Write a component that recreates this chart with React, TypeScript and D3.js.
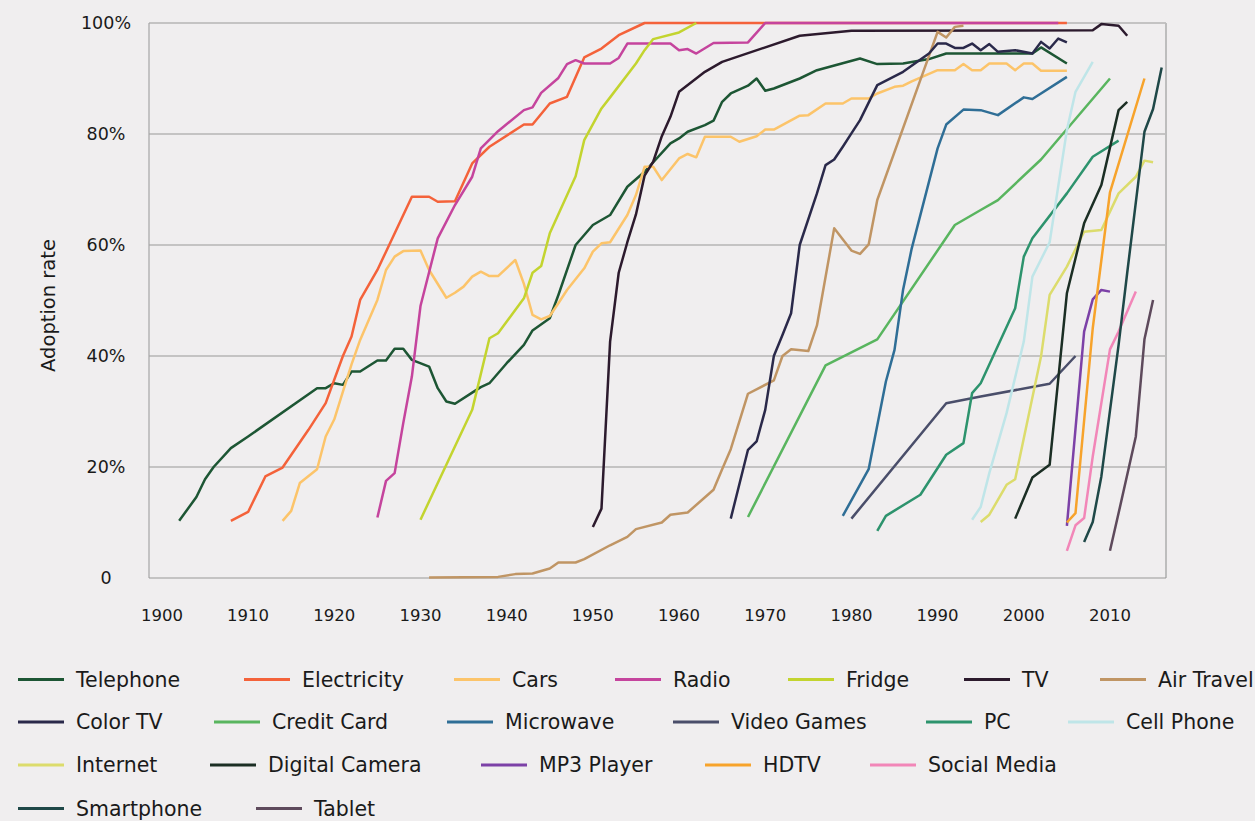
import React from "react";
import * as d3 from "d3";

type Pt = [number, number];

// ---- data: [year, adoption %] ----
const telephone: Pt[] = [[1902,10.3],[1904,14.6],[1905,17.8],[1906,20.0],[1908,23.4],[1910,25.5],[1918,34.2],[1919,34.2],[1920,35.1],[1921,34.8],[1922,37.2],[1923,37.2],[1925,39.2],[1926,39.2],[1927,41.3],[1928,41.3],[1929,39.3],[1931,38.1],[1932,34.2],[1933,31.8],[1934,31.4],[1936,33.4],[1937,34.4],[1938,35.1],[1940,38.7],[1942,42.0],[1943,44.6],[1945,46.8],[1946,51.0],[1948,60.0],[1950,63.6],[1952,65.4],[1954,70.5],[1956,73.2],[1959,78.3],[1960,79.2],[1961,80.4],[1963,81.6],[1964,82.4],[1965,85.8],[1966,87.3],[1968,88.7],[1969,90.0],[1970,87.8],[1971,88.2],[1974,90.0],[1976,91.5],[1981,93.6],[1983,92.6],[1986,92.7],[1989,93.5],[1991,94.5],[2001,94.5],[2002,95.6],[2005,92.7]];
const electricity: Pt[] = [[1908,10.3],[1910,11.9],[1912,18.3],[1914,19.9],[1917,26.7],[1919,31.5],[1921,40.0],[1922,43.5],[1923,50.1],[1925,55.5],[1926,58.8],[1929,68.7],[1931,68.7],[1932,67.8],[1934,67.9],[1936,74.7],[1938,77.7],[1942,81.7],[1943,81.7],[1945,85.5],[1947,86.7],[1949,93.8],[1951,95.4],[1953,97.8],[1956,100],[2005,100]];
const cars: Pt[] = [[1914,10.3],[1915,12.1],[1916,17.1],[1918,19.6],[1919,25.5],[1920,28.6],[1921,33.6],[1922,38.5],[1923,42.9],[1924,46.5],[1925,50.1],[1926,55.5],[1927,57.9],[1928,58.9],[1930,59.0],[1931,55.5],[1933,50.5],[1934,51.4],[1935,52.5],[1936,54.3],[1937,55.2],[1938,54.4],[1939,54.4],[1941,57.3],[1942,53.0],[1943,47.4],[1944,46.6],[1945,47.2],[1946,49.5],[1947,51.9],[1949,55.8],[1950,58.8],[1951,60.3],[1952,60.5],[1954,65.4],[1955,69.0],[1956,74.1],[1957,74.1],[1958,71.7],[1960,75.6],[1961,76.4],[1962,75.8],[1963,79.5],[1966,79.5],[1967,78.6],[1969,79.6],[1970,80.8],[1971,80.8],[1974,83.3],[1975,83.4],[1977,85.5],[1979,85.5],[1980,86.4],[1982,86.4],[1983,87.3],[1985,88.5],[1986,88.7],[1987,89.5],[1990,91.5],[1992,91.5],[1993,92.6],[1994,91.5],[1995,91.5],[1996,92.7],[1998,92.7],[1999,91.5],[2000,92.7],[2001,92.7],[2002,91.4],[2005,91.4]];
const radio: Pt[] = [[1925,10.9],[1926,17.5],[1927,18.9],[1928,27.9],[1929,36.3],[1930,49.0],[1932,61.2],[1934,67.2],[1936,72.3],[1937,77.4],[1939,80.5],[1942,84.3],[1943,84.8],[1944,87.4],[1946,90.1],[1947,92.6],[1948,93.3],[1949,92.7],[1952,92.7],[1953,93.7],[1954,96.3],[1959,96.3],[1960,95.1],[1961,95.3],[1962,94.5],[1964,96.4],[1968,96.5],[1970,100],[2004,100]];
const fridge: Pt[] = [[1930,10.5],[1936,30.3],[1938,43.2],[1939,44.1],[1942,50.4],[1943,55.0],[1944,56.2],[1945,62.1],[1948,72.4],[1949,78.9],[1951,84.6],[1952,86.6],[1955,92.7],[1956,95.1],[1957,97.1],[1960,98.3],[1962,100]];
const tv: Pt[] = [[1950,9.2],[1951,12.5],[1952,42.6],[1953,55.0],[1954,60.5],[1955,65.5],[1956,72.5],[1957,75.0],[1958,79.6],[1959,83.1],[1960,87.6],[1963,91.2],[1965,93.0],[1974,97.7],[1980,98.6],[2008,98.7],[2009,99.8],[2011,99.5],[2012,97.7]];
const airTravel: Pt[] = [[1931,0.1],[1939,0.2],[1941,0.7],[1943,0.8],[1945,1.7],[1946,2.8],[1948,2.8],[1949,3.4],[1952,5.9],[1954,7.4],[1955,8.8],[1958,10.0],[1959,11.4],[1961,11.8],[1964,15.9],[1965,19.6],[1966,23.2],[1968,33.2],[1971,35.6],[1972,40.0],[1973,41.2],[1975,40.9],[1976,45.5],[1978,63.0],[1980,59.0],[1981,58.4],[1982,60.1],[1983,68.1],[1990,98.4],[1991,97.4],[1992,99.3],[1993,99.5]];
const colorTV: Pt[] = [[1966,10.7],[1968,23.1],[1969,24.6],[1970,30.3],[1971,40.0],[1972,43.8],[1973,47.7],[1974,60.0],[1976,69.3],[1977,74.4],[1978,75.4],[1979,77.7],[1980,80.1],[1981,82.5],[1983,88.8],[1986,91.2],[1989,94.5],[1990,96.3],[1991,96.3],[1992,95.5],[1993,95.5],[1994,96.3],[1995,95.1],[1996,96.2],[1997,94.8],[1999,95.1],[2001,94.5],[2002,96.6],[2003,95.4],[2004,97.2],[2005,96.5]];
const creditCard: Pt[] = [[1968,11.0],[1977,38.3],[1983,43.0],[1992,63.6],[1995,66.3],[1997,68.1],[2002,75.4],[2010,90.0]];
const microwave: Pt[] = [[1979,11.2],[1982,19.6],[1984,35.4],[1985,41.1],[1986,52.0],[1987,59.4],[1990,77.4],[1991,81.7],[1993,84.4],[1995,84.3],[1997,83.4],[2000,86.6],[2001,86.3],[2005,90.3]];
const videoGames: Pt[] = [[1980,10.7],[1991,31.5],[1995,32.7],[2003,35.0],[2006,40.0]];
const pc: Pt[] = [[1983,8.5],[1984,11.2],[1988,15.0],[1991,22.2],[1993,24.3],[1994,33.3],[1995,35.1],[1999,48.6],[2000,57.9],[2001,61.2],[2005,69.3],[2008,75.9],[2011,78.8]];
const cellPhone: Pt[] = [[1994,10.5],[1995,12.8],[1996,18.9],[1998,29.7],[2000,42.6],[2001,54.3],[2003,60.5],[2005,80.7],[2006,87.6],[2008,93.0]];
const internet: Pt[] = [[1995,10.1],[1996,11.4],[1998,16.8],[1999,17.8],[2002,39.9],[2003,51.0],[2005,56.1],[2007,62.4],[2009,62.7],[2011,69.3],[2013,72.3],[2014,75.2],[2015,74.9]];
const digitalCamera: Pt[] = [[1999,10.7],[2001,18.1],[2003,20.4],[2005,51.3],[2007,63.9],[2009,70.8],[2011,84.3],[2012,85.8]];
const mp3Player: Pt[] = [[2005,9.4],[2007,44.4],[2008,50.2],[2009,51.9],[2010,51.6]];
const hdtv: Pt[] = [[2005,10.0],[2006,11.7],[2008,45.0],[2010,69.5],[2014,90.0]];
const socialMedia: Pt[] = [[2005,4.9],[2006,9.5],[2007,10.8],[2008,21.9],[2010,41.2],[2011,44.4],[2013,51.6]];
const smartphone: Pt[] = [[2007,6.5],[2008,10.1],[2009,18.3],[2011,42.0],[2012,55.0],[2014,80.4],[2015,84.5],[2016,92.0]];
const tablet: Pt[] = [[2010,4.9],[2011,11.7],[2013,25.5],[2014,43.0],[2015,50.1]];

const seriesNames = ["Telephone","Electricity","Cars","Radio","Fridge","TV","Air Travel","Color TV","Credit Card","Microwave","Video Games","PC","Cell Phone","Internet","Digital Camera","MP3 Player","HDTV","Social Media","Smartphone","Tablet"];
const seriesValues: Pt[][] = [telephone,electricity,cars,radio,fridge,tv,airTravel,colorTV,creditCard,microwave,videoGames,pc,cellPhone,internet,digitalCamera,mp3Player,hdtv,socialMedia,smartphone,tablet];

const xTickYears = [1900,1910,1920,1930,1940,1950,1960,1970,1980,1990,2000,2010];
const yTickValues = [0,20,40,60,80,100];

// ---- styles / layout ----
const seriesColors = ["#1d5634","#f4623a","#fcc46a","#c5449d","#c3d42f","#2c1a2d","#c09564","#2a294a","#59b55f","#2f6e96","#4a4e6a","#2d936d","#bfe5e8","#dcdc6c","#1b2e24","#7c41a7","#f7a32b","#f286b8","#1f4848","#5e4a5c"];
const legendRowY = [679.5, 722, 765, 808.5];
const legendPos: [number, number][] = [
  [0,18],[0,244],[0,454],[0,615],[0,788],[0,964],[0,1100],
  [1,18],[1,214],[1,447],[1,673],[1,926],[1,1068],
  [2,18],[2,210],[2,481],[2,705],[2,870],
  [3,18],[3,256],
];

const W = 1255, H = 821;
const M = { left: 149, right: 1166, top: 23, bottom: 578 };
const FONT = "'DejaVu Sans', sans-serif";

export default function App() {
  const x = d3.scaleLinear().domain([1898.5, 2016.5]).range([M.left, M.right]);
  const y = d3.scaleLinear().domain([0, 100]).range([M.bottom, M.top]);
  const line = d3.line<Pt>().x(d => x(d[0])).y(d => y(d[1]));

  return (
    <svg width={W} height={H} style={{ position: "absolute", left: 0, top: 0, display: "block", background: "#f0eeef" }}>
      <rect x={0} y={0} width={W} height={H} fill="#f0eeef" />
      {yTickValues.filter(v => v > 0).map(v => (
        <line key={v} x1={M.left} x2={M.right} y1={y(v)} y2={y(v)} stroke="#979797" strokeWidth={1.2} />
      ))}
      <line x1={M.left} x2={M.left} y1={M.top} y2={M.bottom} stroke="#a5a5a5" strokeWidth={1.2} />
      <line x1={M.right} x2={M.right} y1={M.top} y2={M.bottom} stroke="#bdbdbd" strokeWidth={2} />
      <line x1={M.left} x2={M.right} y1={M.bottom} y2={M.bottom} stroke="#979797" strokeWidth={1.2} />
      {yTickValues.map(v => (
        <text key={v} x={106} y={y(v)} dy="0.35em" textAnchor="middle" fontFamily={FONT} fontSize={17.5} fill="#1a1a1a">
          {v === 0 ? "0" : `${v}%`}
        </text>
      ))}
      <text transform={`translate(55,${(M.top + M.bottom) / 2 + 5}) rotate(-90)`} textAnchor="middle" fontFamily={FONT} fontSize={19.5} fill="#1a1a1a">Adoption rate</text>
      {xTickYears.map(t => (
        <text key={t} x={x(t)} y={621} textAnchor="middle" fontFamily={FONT} fontSize={16.5} fill="#1a1a1a">{t}</text>
      ))}
      {seriesValues.map((s, i) => (
        <path key={seriesNames[i]} d={line(s) || ""} fill="none" stroke={seriesColors[i]} strokeWidth={2.5} strokeLinejoin="round" />
      ))}
      {seriesNames.map((name, i) => {
        const [row, lx] = legendPos[i];
        const ly = legendRowY[row];
        return (
          <g key={name}>
            <line x1={lx} x2={lx + 46} y1={ly} y2={ly} stroke={seriesColors[i]} strokeWidth={3} />
            <text x={lx + 58} y={ly} dy="0.36em" fontFamily={FONT} fontSize={20.5} fill="#1a1a1a">{name}</text>
          </g>
        );
      })}
    </svg>
  );
}
